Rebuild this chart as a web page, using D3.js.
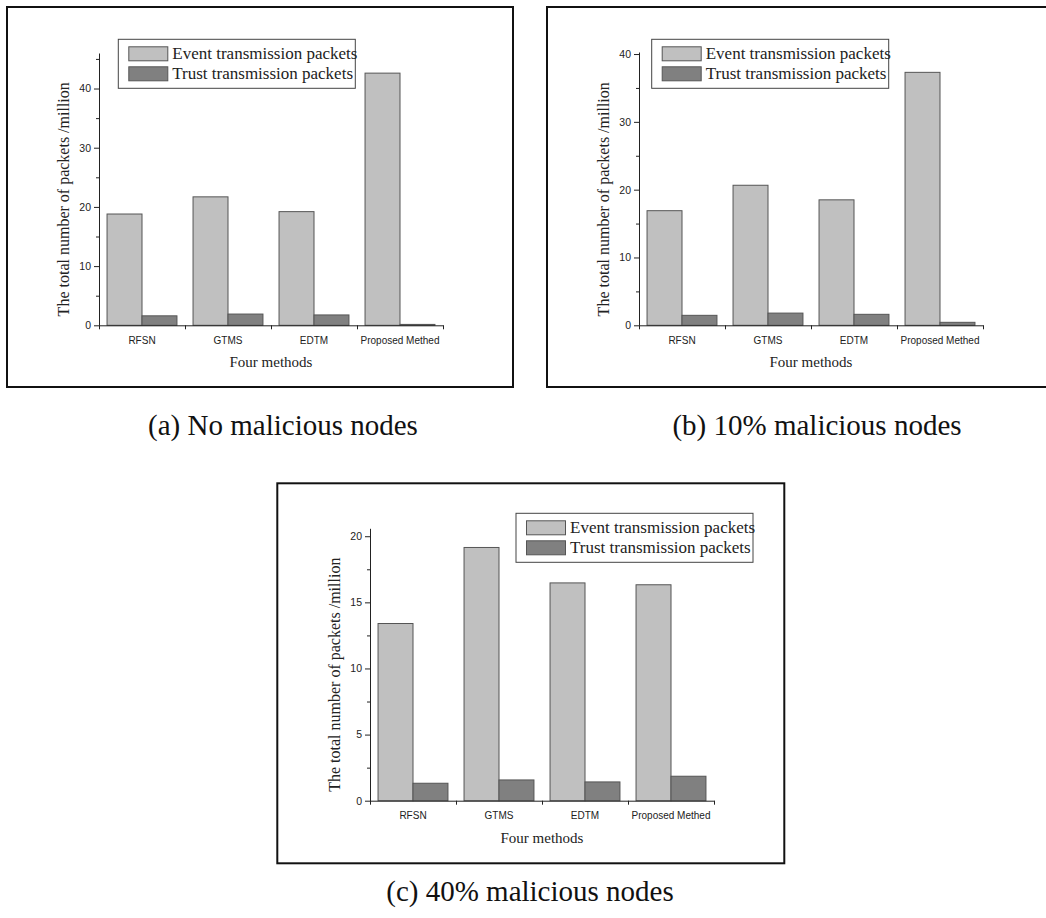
<!DOCTYPE html>
<html>
<head>
<meta charset="utf-8">
<script src="https://cdn.jsdelivr.net/npm/d3@7"></script>
<style>
  html, body { margin: 0; padding: 0; background: #fff; }
  svg { display: block; }
</style>
</head>
<body>
<svg id="chart" width="1046" height="918"></svg>
<script>
// ---- data ----
const categories = ["RFSN", "GTMS", "EDTM", "Proposed Methed"];
const seriesNames = ["Event transmission packets", "Trust transmission packets"];

const eventA = [18.8, 21.7, 19.2, 42.6];
const trustA = [1.6, 1.9, 1.75, 0.15];

const eventB = [16.9, 20.65, 18.5, 37.3];
const trustB = [1.47, 1.8, 1.62, 0.44];

const eventC = [13.4, 19.15, 16.47, 16.33];
const trustC = [1.32, 1.57, 1.42, 1.85];

const ticksAB = [0, 10, 20, 30, 40];
const ticksC = [0, 5, 10, 15, 20];

const captions = ["(a) No malicious nodes", "(b) 10% malicious nodes", "(c) 40% malicious nodes"];
const xTitle = "Four methods";
const yTitle = "The total number of packets /million";

// ---- layout ----
const panels = [
  { frame: [7, 7, 513, 387], ox: 99, oy: 325.3, w: 344, h: 272.3, max: 46, ticks: ticksAB, minorStep: 5,
    ev: eventA, tr: trustA, legend: [118.3, 39.3], caption: captions[0], capX: 283, capY: 435 },
  { frame: [547, 7, 1052, 387], ox: 639, oy: 325.3, w: 344, h: 273.3, max: 40.3, ticks: ticksAB, minorStep: 5,
    ev: eventB, tr: trustB, legend: [651.7, 39.3], caption: captions[1], capX: 817, capY: 435 },
  { frame: [277.3, 483.3, 784.3, 863.3], ox: 370, oy: 800.7, w: 344, h: 272.4, max: 20.6, ticks: ticksC, minorStep: 2.5,
    ev: eventC, tr: trustC, legend: [516, 513.3], caption: captions[2], capX: 530, capY: 901 }
];

const colors = ["#c0c0c0", "#808080"];
const svg = d3.select("#chart");

panels.forEach(p => {
  const [fx1, fy1, fx2, fy2] = p.frame;
  svg.append("rect")
    .attr("x", fx1).attr("y", fy1)
    .attr("width", fx2 - fx1).attr("height", fy2 - fy1)
    .attr("fill", "none").attr("stroke", "#111").attr("stroke-width", 2);

  const g = svg.append("g").attr("transform", `translate(${p.ox},${p.oy - p.h})`);

  const y = d3.scaleLinear().domain([0, p.max]).range([p.h, 0]);
  const x0 = d3.scaleBand().domain(categories).range([0, p.w]).padding(0);
  const x1 = d3.scaleBand().domain(seriesNames).range([0, x0.bandwidth()]).paddingInner(0).paddingOuter(0.23);

  const rows = categories.map((c, i) => ({ cat: c, vals: [p.ev[i], p.tr[i]] }));

  // bars
  const grp = g.selectAll("g.cat").data(rows).join("g")
    .attr("transform", d => `translate(${x0(d.cat)},0)`);
  grp.selectAll("rect").data(d => d.vals.map((v, k) => ({ v, k })))
    .join("rect")
    .attr("x", d => x1(seriesNames[d.k]))
    .attr("width", x1.bandwidth())
    .attr("y", d => y(d.v))
    .attr("height", d => y(0) - y(d.v))
    .attr("fill", d => colors[d.k])
    .attr("stroke", "#555")
    .attr("stroke-width", 1);

  // y axis: minor ticks
  const minor = d3.range(0, p.max + 1e-9, p.minorStep).filter(v => !p.ticks.includes(v));
  g.append("g").call(d3.axisLeft(y).tickValues(minor).tickSize(3).tickFormat(""))
    .call(a => a.select(".domain").remove())
    .call(a => a.selectAll("line").attr("stroke", "#222"));
  // y axis: major
  const ya = g.append("g").call(d3.axisLeft(y).tickValues(p.ticks).tickSize(5).tickSizeOuter(0).tickPadding(3));
  ya.select(".domain").attr("stroke", "#222");
  ya.selectAll("line").attr("stroke", "#222");
  ya.selectAll("text").attr("font-family", "'Liberation Sans', Arial, sans-serif").attr("font-size", 10.5).attr("fill", "#222");

  // x axis with ticks at category boundaries
  const xb = d3.scaleLinear().domain([0, categories.length]).range([0, p.w]);
  const xa = g.append("g").attr("transform", `translate(0,${p.h})`)
    .call(d3.axisBottom(xb).tickValues(d3.range(0, categories.length + 1)).tickSize(4).tickSizeOuter(0).tickFormat(""));
  xa.select(".domain").attr("stroke", "#222");
  xa.selectAll("line").attr("stroke", "#222");
  g.append("g").selectAll("text").data(categories).join("text")
    .attr("x", d => x0(d) + x0.bandwidth() / 2)
    .attr("y", p.h + 18.5)
    .attr("text-anchor", "middle")
    .attr("font-family", "'Liberation Sans', Arial, sans-serif")
    .attr("font-size", 10)
    .attr("fill", "#222")
    .text(d => d);

  // axis titles
  g.append("text")
    .attr("x", p.w / 2).attr("y", p.h + 42)
    .attr("text-anchor", "middle")
    .attr("font-family", "'Liberation Serif', 'Times New Roman', serif")
    .attr("font-size", 15).attr("fill", "#222")
    .text(xTitle);
  g.append("text")
    .attr("transform", `translate(-30,${p.h - 126}) rotate(-90)`)
    .attr("text-anchor", "middle")
    .attr("font-family", "'Liberation Serif', 'Times New Roman', serif")
    .attr("font-size", 16).attr("fill", "#222")
    .text(yTitle);

  // legend
  const lg = svg.append("g").attr("transform", `translate(${p.legend[0]},${p.legend[1]})`);
  lg.append("rect").attr("width", 237).attr("height", 49)
    .attr("fill", "#fff").attr("stroke", "#444").attr("stroke-width", 1);
  seriesNames.forEach((s, k) => {
    lg.append("rect").attr("x", 10.5).attr("y", 7.5 + k * 20).attr("width", 39).attr("height", 14)
      .attr("fill", colors[k]).attr("stroke", "#555").attr("stroke-width", 1);
    lg.append("text").attr("x", 54).attr("y", 20 + k * 20)
      .attr("font-family", "'Liberation Serif', 'Times New Roman', serif")
      .attr("font-size", 17).attr("fill", "#222")
      .text(s);
  });

  // caption
  svg.append("text")
    .attr("x", p.capX).attr("y", p.capY)
    .attr("text-anchor", "middle")
    .attr("font-family", "'Liberation Serif', 'Times New Roman', serif")
    .attr("font-size", 29).attr("fill", "#111")
    .text(p.caption);
});
</script>
</body>
</html>
